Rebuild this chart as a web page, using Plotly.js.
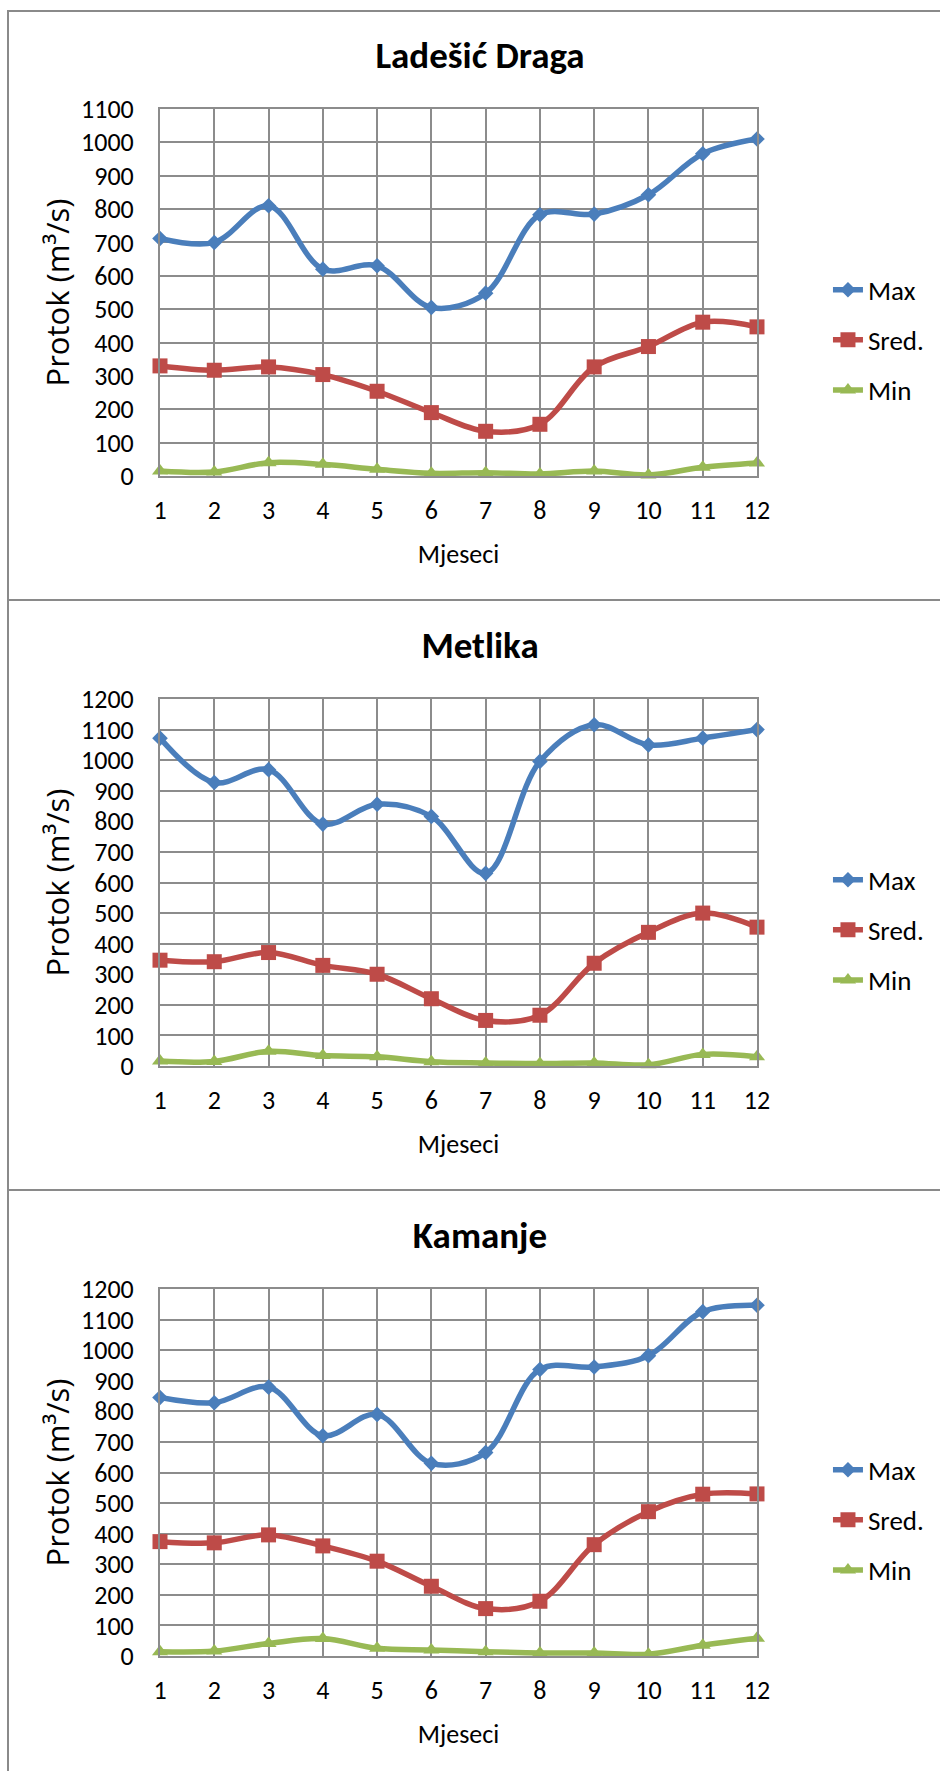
<!DOCTYPE html>
<html><head><meta charset="utf-8">
<script src="https://cdn.plot.ly/plotly-3.0.1.min.js"></script>
<style>
body{margin:0;background:#fff;width:940px;height:1771px;overflow:hidden;position:relative}
.panel{position:absolute;left:7px;width:933px;height:590px}
.hl{position:absolute;left:7px;width:933px;height:2px;background:#8a8a8a}
.vl{position:absolute;left:7px;top:10px;width:2px;height:1761px;background:#8a8a8a}
</style></head><body>
<div id="c1" class="panel" style="top:10px"></div>
<div id="c2" class="panel" style="top:600px"></div>
<div id="c3" class="panel" style="top:1190px"></div>
<div class="hl" style="top:10px"></div>
<div class="hl" style="top:599px"></div>
<div class="hl" style="top:1189px"></div>
<div class="vl"></div>
<script>
// ---- data ----
const months = [1,2,3,4,5,6,7,8,9,10,11,12];
const seriesNames = ["Max", "Sred.", "Min"];
const chartTitles = ["Ladešić Draga", "Metlika", "Kamanje"];
const yAxisTops = [1100, 1200, 1200];

const ladesicMax  = [712, 700, 810, 620, 630, 505, 548, 783, 785, 843, 966, 1010];
const ladesicSred = [330, 317, 327, 304, 254, 190, 134, 155, 327, 388, 461, 447];
const ladesicMin  = [15, 12, 40, 35, 20, 8, 10, 6, 15, 3, 26, 39];

const metlikaMax  = [1072, 927, 969, 791, 856, 816, 630, 996, 1116, 1050, 1072, 1100];
const metlikaSred = [346, 341, 371, 329, 300, 220, 149, 166, 336, 437, 500, 454];
const metlikaMin  = [16, 15, 48, 34, 30, 14, 10, 8, 10, 4, 38, 30];

const kamanjeMax  = [845, 828, 879, 720, 790, 630, 665, 937, 945, 982, 1126, 1147];
const kamanjeSred = [374, 370, 396, 360, 310, 228, 155, 179, 364, 472, 529, 530];
const kamanjeMin  = [14, 16, 41, 57, 25, 20, 14, 10, 10, 6, 35, 58];

// ---- style ----
const FONT = "Carlito, Calibri, Lato, sans-serif";
const colors = ["#4A7EBB", "#BE4B48", "#98B954"];
const symbols = ["diamond", "square", "triangle-up"];
const sizes = [12, 15, 14];
const GRID = "#8c8c8c";

function makeChart(id, title, yTop, maxV, sredV, minV) {
  const vals = [maxV, sredV, minV];
  const traces = vals.map((v, i) => ({
    x: months, y: v, name: seriesNames[i], type: "scatter", mode: "lines+markers",
    line: {color: colors[i], width: 5.5, shape: "spline", smoothing: 1},
    marker: {color: colors[i], symbol: symbols[i], size: sizes[i]},
    cliponaxis: false, legendgroup: "g" + i
  }));
  const layout = {
    width: 933, height: 590,
    margin: {l: 153, r: 182, t: 99, b: 124},
    paper_bgcolor: "rgba(0,0,0,0)", plot_bgcolor: "#fff",
    font: {family: FONT, size: 26, color: "#000"},
    title: {text: "<b>" + title + "</b>", font: {family: FONT, size: 37, color: "#000"},
            xref: "container", yref: "container", x: 0.507, xanchor: "center", y: 0.924, yanchor: "middle"},
    xaxis: {range: [1, 12], tickmode: "array", tickvals: months, ticktext: months.map(String),
            showgrid: true, gridcolor: GRID, gridwidth: 2, showline: true, linecolor: GRID, linewidth: 2, mirror: true,
            ticks: "outside", ticklen: 10, tickcolor: "rgba(0,0,0,0)", zeroline: false, fixedrange: true,
            title: {text: "Mjeseci", font: {family: FONT, size: 26}, standoff: 20}},
    yaxis: {range: [0, yTop], dtick: 100, tick0: 0,
            showgrid: true, gridcolor: GRID, gridwidth: 2, showline: true, linecolor: GRID, linewidth: 2, mirror: true,
            ticks: "outside", ticklen: 19, tickcolor: "rgba(0,0,0,0)", zeroline: false, fixedrange: true,
            title: {text: "Protok (m³/s)", font: {family: "Open Sans, sans-serif", size: 31}, standoff: 2}},
    showlegend: true,
    legend: {x: 1.117, xanchor: "left", y: 0.37, yanchor: "middle", traceorder: "grouped", tracegroupgap: 12,
             font: {family: FONT, size: 27}, bgcolor: "rgba(0,0,0,0)", itemwidth: 30}
  };
  Plotly.newPlot(id, traces, layout, {staticPlot: true});
}

makeChart("c1", chartTitles[0], yAxisTops[0], ladesicMax, ladesicSred, ladesicMin);
makeChart("c2", chartTitles[1], yAxisTops[1], metlikaMax, metlikaSred, metlikaMin);
makeChart("c3", chartTitles[2], yAxisTops[2], kamanjeMax, kamanjeSred, kamanjeMin);
</script>
</body></html>
